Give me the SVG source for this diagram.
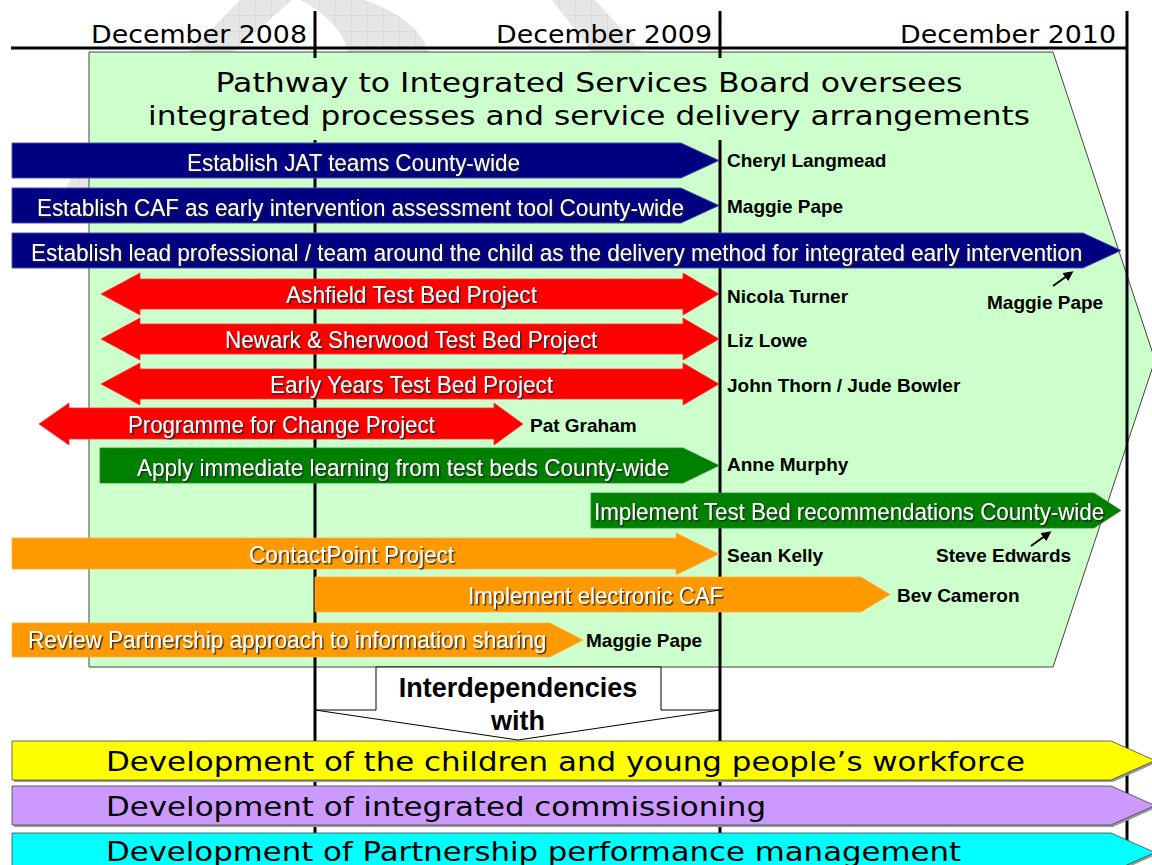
<svg xmlns="http://www.w3.org/2000/svg" width="1152" height="865" viewBox="0 0 1152 865">
<style>
.date{font-family:"DejaVu Sans","Verdana",sans-serif;font-size:25px;fill:#000;text-anchor:end}
.title{font-family:"DejaVu Sans","Verdana",sans-serif;font-size:27px;fill:#000;text-anchor:middle}
.lbl{font-family:"Liberation Sans",Arial,sans-serif;font-size:24.5px;fill:#fff;filter:url(#sh)}
.name{font-family:"Liberation Sans",Arial,sans-serif;font-size:19px;font-weight:bold;fill:#000}
.dev{font-family:"DejaVu Sans","Verdana",sans-serif;font-size:27px;fill:#000}
.int{font-family:"Liberation Sans",Arial,sans-serif;font-size:27px;font-weight:bold;fill:#000;text-anchor:middle}
.navy{fill:#000080;stroke:#5050a8;stroke-width:1}
.red{fill:#FF0000;stroke:#ff3030;stroke-width:0.8}
.grn{fill:#008000;stroke:#2a8a2a;stroke-width:0.8}
.org{fill:#FF9900;stroke:#ffb040;stroke-width:0.8}
.band{stroke:#444;stroke-width:0.8}
.tl{stroke:#000;stroke-width:3;fill:none}
</style>
<defs>
<filter id="sh" x="-1%" y="-10%" width="103%" height="130%">
<feDropShadow dx="1.8" dy="1.5" stdDeviation="0.3" flood-color="#222" flood-opacity="0.9"/>
</filter>
<pattern id="grid" width="16" height="16" patternUnits="userSpaceOnUse">
<rect width="16" height="16" fill="#e6e6e6"/>
<path d="M16 0V16M0 16H16" stroke="#d4d4d4" stroke-width="1" fill="none"/>
</pattern>
<marker id="ah" markerWidth="10" markerHeight="10" refX="7" refY="5" orient="auto" markerUnits="userSpaceOnUse">
<path d="M0,0 L10,5 L0,10 Z" fill="#000"/>
</marker>
</defs>
<rect width="1152" height="865" fill="#fff"/>
<g id="watermark">
<path d="M240,0 L292,0 L100,170 L89,200 L60,200 L75,170 Z" fill="url(#grid)"/>
<path d="M300,0 L365,0 Q420,20 428,52 L348,52 Q340,20 300,0 Z" fill="url(#grid)"/>
<path d="M552,0 L595,0 L642,52 L592,52 Z" fill="url(#grid)"/>
</g>
<g id="pathway-board">
<polygon points="89,52 1053,52 1155,360 1053,667 89,667" fill="#CCFFCC" stroke="#444" stroke-width="1"/>
</g>
<g id="timeline">
<line class="tl" x1="11" y1="48" x2="1128" y2="48"/>
<line class="tl" x1="315" y1="11" x2="315" y2="865"/>
<line class="tl" x1="720" y1="11" x2="720" y2="865"/>
<line class="tl" x1="1127" y1="11" x2="1127" y2="865"/>
<text class="date" x="307" y="43" textLength="216" lengthAdjust="spacingAndGlyphs">December 2008</text>
<text class="date" x="712" y="43" textLength="216" lengthAdjust="spacingAndGlyphs">December 2009</text>
<text class="date" x="1116" y="43" textLength="216" lengthAdjust="spacingAndGlyphs">December 2010</text>
</g>
<g id="pathway-title">
<rect x="110" y="58" width="940" height="82" fill="#CCFFCC"/>
<text class="title" x="589" y="92" textLength="747" lengthAdjust="spacingAndGlyphs">Pathway to Integrated Services Board oversees</text>
<text class="title" x="589" y="125" textLength="882" lengthAdjust="spacingAndGlyphs">integrated processes and service delivery arrangements</text>
</g>
<g id="jat">
<path class="navy" d="M12,143 H681 L719,160.5 L681,178 H12 Z"/>
<text class="lbl" transform="translate(187,171) scale(0.82,1)" textLength="406" lengthAdjust="spacingAndGlyphs">Establish JAT teams County-wide</text>
<text class="name" x="727" y="167">Cheryl Langmead</text>
</g>
<g id="caf">
<path class="navy" d="M12,188 H681 L719,205.5 L681,223 H12 Z"/>
<text class="lbl" transform="translate(37,216) scale(0.82,1)" textLength="789" lengthAdjust="spacingAndGlyphs">Establish CAF as early intervention assessment tool County-wide</text>
<text class="name" x="727" y="213">Maggie Pape</text>
</g>
<g id="lead-professional">
<path class="navy" d="M12,233 H1083 L1121,250.5 L1083,268 H12 Z"/>
<text class="lbl" transform="translate(31,261) scale(0.82,1)" textLength="1282" lengthAdjust="spacingAndGlyphs">Establish lead professional / team around the child as the delivery method for integrated early intervention</text>
<text class="name" x="987" y="309">Maggie Pape</text>
</g>
<g id="ashfield">
<path class="red" d="M101,294 L140,273 V279 H683 V273 L719,294 L683,315 V309 H140 V315 Z"/>
<text class="lbl" transform="translate(286,303) scale(0.82,1)" textLength="306" lengthAdjust="spacingAndGlyphs">Ashfield Test Bed Project</text>
<text class="name" x="727" y="303">Nicola Turner</text>
</g>
<g id="newark">
<path class="red" d="M101,339 L140,318 V324 H683 V318 L719,339 L683,360 V354 H140 V360 Z"/>
<text class="lbl" transform="translate(225,348) scale(0.82,1)" textLength="454" lengthAdjust="spacingAndGlyphs">Newark &amp; Sherwood Test Bed Project</text>
<text class="name" x="727" y="347">Liz Lowe</text>
</g>
<g id="early-years">
<path class="red" d="M101,384 L140,363 V369 H683 V363 L719,384 L683,405 V399 H140 V405 Z"/>
<text class="lbl" transform="translate(270,393) scale(0.82,1)" textLength="345" lengthAdjust="spacingAndGlyphs">Early Years Test Bed Project</text>
<text class="name" x="727" y="392">John Thorn / Jude Bowler</text>
</g>
<g id="programme-for-change">
<path class="red" d="M39,424 L69,403 V408 H494 V403 L523,424 L494,445 V439 H69 V445 Z"/>
<text class="lbl" transform="translate(128,433) scale(0.82,1)" textLength="374" lengthAdjust="spacingAndGlyphs">Programme for Change Project</text>
<text class="name" x="530" y="432">Pat Graham</text>
</g>
<g id="apply-learning">
<path class="grn" d="M100,448 H683 L719,465.5 L683,483 H100 Z"/>
<text class="lbl" transform="translate(137,476) scale(0.82,1)" textLength="649" lengthAdjust="spacingAndGlyphs">Apply immediate learning from test beds County-wide</text>
<text class="name" x="727" y="471">Anne Murphy</text>
</g>
<g id="implement-recommendations">
<path class="grn" d="M591,493 H1094 L1121,510.5 L1094,528 H591 Z"/>
<text class="lbl" transform="translate(594,520) scale(0.82,1)" textLength="622" lengthAdjust="spacingAndGlyphs">Implement Test Bed recommendations County-wide</text>
<text class="name" x="936" y="562">Steve Edwards</text>
</g>
<g id="contactpoint">
<path class="org" d="M12,538 H676 V533 L719,554 L676,575 V569 H12 Z"/>
<text class="lbl" transform="translate(249,563) scale(0.82,1)" textLength="250" lengthAdjust="spacingAndGlyphs">ContactPoint Project</text>
<text class="name" x="727" y="562">Sean Kelly</text>
</g>
<g id="electronic-caf">
<path class="org" d="M315,577 H861 L890,594.5 L861,612 H315 Z"/>
<text class="lbl" transform="translate(468,604) scale(0.82,1)" textLength="311" lengthAdjust="spacingAndGlyphs">Implement electronic CAF</text>
<text class="name" x="897" y="602">Bev Cameron</text>
</g>
<g id="review-partnership">
<path class="org" d="M12,623 H550 L583,640 L550,657 H12 Z"/>
<text class="lbl" transform="translate(28,648) scale(0.82,1)" textLength="632" lengthAdjust="spacingAndGlyphs">Review Partnership approach to information sharing</text>
<text class="name" x="586" y="647">Maggie Pape</text>
</g>
<g id="interdependencies">
<polygon points="376,667 661,667 661,710 720,710 518,740 315,710 376,710" fill="#fff" stroke="#000" stroke-width="1"/>
<text class="int" x="518" y="697">Interdependencies</text>
<text class="int" x="518" y="730">with</text>
</g>
<g id="workforce">
<path d="M14,743 H1113 L1157,762.5 L1113,782 H14 Z" fill="#999"/>
<path class="band" d="M12,741 H1111 L1155,760.5 L1111,780 H12 Z" fill="#FFFF00"/>
<text class="dev" x="106" y="771" textLength="919" lengthAdjust="spacingAndGlyphs">Development of the children and young people’s workforce</text>
</g>
<g id="commissioning">
<path d="M14,788 H1113 L1157,807.5 L1113,827 H14 Z" fill="#999"/>
<path class="band" d="M12,786 H1111 L1155,805.5 L1111,825 H12 Z" fill="#CC99FF"/>
<text class="dev" x="106" y="816" textLength="660" lengthAdjust="spacingAndGlyphs">Development of integrated commissioning</text>
</g>
<g id="performance">
<path d="M14,835 H1113 L1157,854.5 L1113,874 H14 Z" fill="#999"/>
<path class="band" d="M12,833 H1111 L1155,852.5 L1111,872 H12 Z" fill="#00FFFF"/>
<text class="dev" x="106" y="861" textLength="855" lengthAdjust="spacingAndGlyphs">Development of Partnership performance management</text>
</g>
<g id="connectors">
<line x1="1053" y1="286" x2="1071" y2="273" stroke="#000" stroke-width="2" marker-end="url(#ah)"/>
<line x1="1031" y1="546" x2="1049" y2="533" stroke="#000" stroke-width="2" marker-end="url(#ah)"/>
</g>
</svg>
